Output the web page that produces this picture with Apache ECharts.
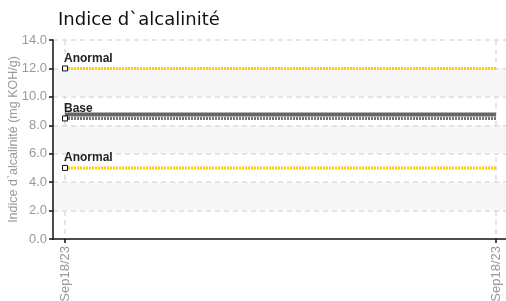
<!DOCTYPE html>
<html><head><meta charset="utf-8">
<script src="https://cdn.jsdelivr.net/npm/echarts@6/dist/echarts.min.js"></script>
<style>html,body{margin:0;padding:0;background:#fff}#c{width:506px;height:301px}</style>
</head><body><div id="c"></div>
<script>
const categories = ['Sep18/23', 'Sep18/23'];
const anormalHigh = [12, 12];
const baseTop = [8.76, 8.76];
const baseValues = [8.48, 8.48];
const anormalLow = [5, 5];
const yTicks = [0, 2, 4, 6, 8, 10, 12, 14];

const FONT = '"Liberation Sans Narrow", "Liberation Sans", sans-serif';
const chart = echarts.init(document.getElementById('c'));
const xIdx = categories.map((c, i) => i + 1);
function pts(vals) { return vals.map((v, i) => [xIdx[i], v]); }
function withMarker(vals, label) {
  return vals.map((v, i) => i === 0 ? {
    value: [xIdx[i], v], symbol: 'rect', symbolSize: 5,
    label: { show: true, formatter: label, position: [2, -13], color: '#222', fontFamily: FONT, fontSize: 12, fontWeight: 'bold' }
  } : { value: [xIdx[i], v], symbol: 'none' });
}
const markerStyle = { color: '#fff', borderColor: '#111', borderWidth: 1 };
chart.setOption({
  animation: false,
  title: { text: 'Indice d`alcalinité', left: 53, top: 6, textStyle: { fontFamily: 'DejaVu Sans', fontSize: 18, fontWeight: 'normal', color: '#111' } },
  grid: { left: 53, right: 0, top: 40, bottom: 62, containLabel: false, outerBoundsMode: 'none' },
  xAxis: {
    type: 'value', min: 1 - 12 / 431, max: 2 + 10 / 431, z: 1,
    axisLine: { lineStyle: { color: '#111', width: 1.5 } },
    axisTick: { customValues: xIdx, length: 4, lineStyle: { color: '#111', width: 1.5 } },
    axisLabel: { customValues: xIdx, rotate: 90, color: '#999', fontFamily: FONT, fontSize: 13, margin: 7,
      formatter: v => categories[Math.round(v) - 1] },
    splitLine: { show: true, customValues: xIdx, lineStyle: { color: '#ddd', type: [5, 4], width: 1.5 } }
  },
  yAxis: {
    type: 'value', min: 0, max: 14, interval: 2, z: 2,
    name: 'Indice d`alcalinité (mg KOH/g)', nameLocation: 'middle', nameGap: 33, nameMoveOverlap: false,
    nameTextStyle: { color: '#999', fontFamily: FONT, fontSize: 12.5 },
    axisLine: { show: true, lineStyle: { color: '#111', width: 1.5 } },
    axisTick: { show: true, length: 4, lineStyle: { color: '#111', width: 1.5 } },
    axisLabel: { color: '#999', fontFamily: FONT, fontSize: 13, margin: 6, formatter: v => v.toFixed(1) },
    splitLine: { showMinLine: false, lineStyle: { color: '#ddd', type: [5, 4], width: 1.5 } },
    splitArea: { show: true, areaStyle: { color: ['rgba(255,255,255,0)', '#f7f7f7'] } }
  },
  series: [
    { type: 'line', data: withMarker(anormalHigh, 'Anormal'), itemStyle: markerStyle,
      lineStyle: { color: '#ffcc00', width: 3, type: [2, 1] }, z: 3 },
    { type: 'line', data: pts(baseTop), symbol: 'none', lineStyle: { color: '#666', width: 4 }, z: 2 },
    { type: 'line', data: withMarker(baseValues, 'Base'), itemStyle: markerStyle,
      lineStyle: { color: '#777', width: 3, type: [2, 1] }, z: 3 },
    { type: 'line', data: withMarker(anormalLow, 'Anormal'), itemStyle: markerStyle,
      lineStyle: { color: '#ffcc00', width: 3, type: [2, 1] }, z: 3 }
  ]
});
</script></body></html>
